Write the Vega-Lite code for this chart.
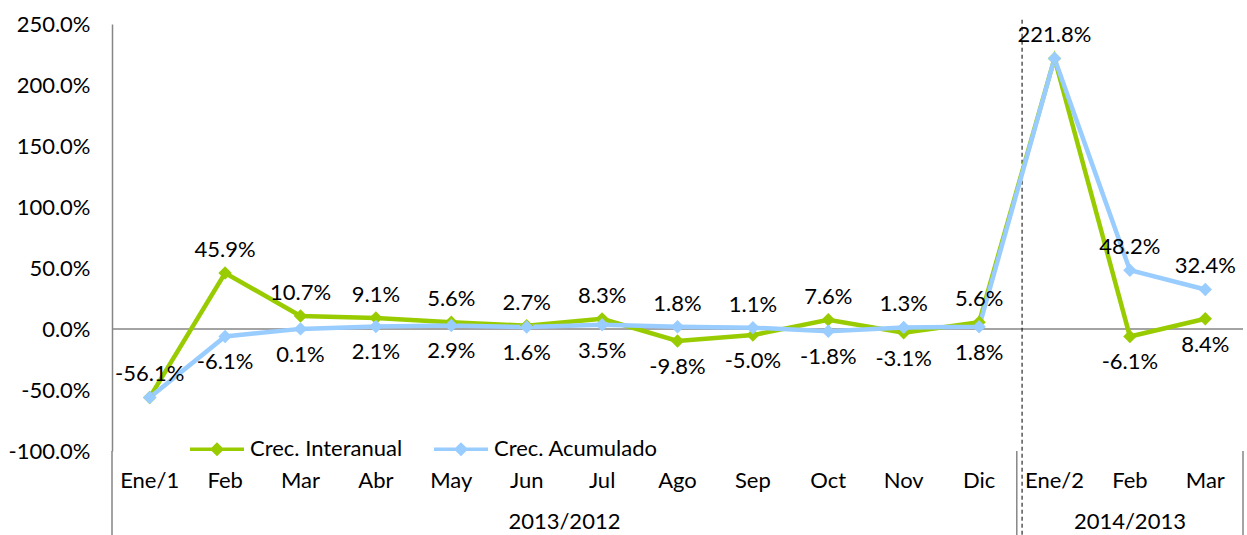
{
  "$schema": "https://vega.github.io/schema/vega-lite/v6.json",
  "width": 1131,
  "height": 427,
  "autosize": "none",
  "padding": {"left": 112, "top": 24, "right": 4, "bottom": 84},
  "background": "white",
  "config": {
    "font": "Lato",
    "view": {"stroke": null},
    "locale": {"number": {"decimal": ".", "thousands": ",", "grouping": [3], "currency": ["$", ""], "minus": "-"}},
    "axisX": {"domain": false, "ticks": false, "grid": false, "labelAngle": 0, "labelFontSize": 22, "labelColor": "#000000", "labelPadding": 19, "labelExpr": "split(datum.label, '|')[1]"},
    "axisY": {"domainColor": "#868686", "domainWidth": 1.5, "ticks": false, "grid": false, "labelFontSize": 22, "labelColor": "#000000", "labelPadding": 22, "labelExpr": "format(datum.value, '.1%')"}
  },
  "datasets": {
    "serie": [
      {"cat": "2013/2012|Ene/1", "serie": "Crec. Interanual", "valor": -0.561},
      {"cat": "2013/2012|Feb", "serie": "Crec. Interanual", "valor": 0.459},
      {"cat": "2013/2012|Mar", "serie": "Crec. Interanual", "valor": 0.107},
      {"cat": "2013/2012|Abr", "serie": "Crec. Interanual", "valor": 0.091},
      {"cat": "2013/2012|May", "serie": "Crec. Interanual", "valor": 0.056},
      {"cat": "2013/2012|Jun", "serie": "Crec. Interanual", "valor": 0.027},
      {"cat": "2013/2012|Jul", "serie": "Crec. Interanual", "valor": 0.083},
      {"cat": "2013/2012|Ago", "serie": "Crec. Interanual", "valor": -0.098},
      {"cat": "2013/2012|Sep", "serie": "Crec. Interanual", "valor": -0.05},
      {"cat": "2013/2012|Oct", "serie": "Crec. Interanual", "valor": 0.076},
      {"cat": "2013/2012|Nov", "serie": "Crec. Interanual", "valor": -0.031},
      {"cat": "2013/2012|Dic", "serie": "Crec. Interanual", "valor": 0.056},
      {"cat": "2014/2013|Ene/2", "serie": "Crec. Interanual", "valor": 2.218},
      {"cat": "2014/2013|Feb", "serie": "Crec. Interanual", "valor": -0.061},
      {"cat": "2014/2013|Mar", "serie": "Crec. Interanual", "valor": 0.084},
      {"cat": "2013/2012|Ene/1", "serie": "Crec. Acumulado", "valor": -0.561},
      {"cat": "2013/2012|Feb", "serie": "Crec. Acumulado", "valor": -0.061},
      {"cat": "2013/2012|Mar", "serie": "Crec. Acumulado", "valor": 0.001},
      {"cat": "2013/2012|Abr", "serie": "Crec. Acumulado", "valor": 0.021},
      {"cat": "2013/2012|May", "serie": "Crec. Acumulado", "valor": 0.029},
      {"cat": "2013/2012|Jun", "serie": "Crec. Acumulado", "valor": 0.016},
      {"cat": "2013/2012|Jul", "serie": "Crec. Acumulado", "valor": 0.035},
      {"cat": "2013/2012|Ago", "serie": "Crec. Acumulado", "valor": 0.018},
      {"cat": "2013/2012|Sep", "serie": "Crec. Acumulado", "valor": 0.011},
      {"cat": "2013/2012|Oct", "serie": "Crec. Acumulado", "valor": -0.018},
      {"cat": "2013/2012|Nov", "serie": "Crec. Acumulado", "valor": 0.013},
      {"cat": "2013/2012|Dic", "serie": "Crec. Acumulado", "valor": 0.018},
      {"cat": "2014/2013|Ene/2", "serie": "Crec. Acumulado", "valor": 2.218},
      {"cat": "2014/2013|Feb", "serie": "Crec. Acumulado", "valor": 0.482},
      {"cat": "2014/2013|Mar", "serie": "Crec. Acumulado", "valor": 0.324}
    ]
  },
  "layer": [
    {
      "data": {"values": [{"linea": "cero"}]},
      "mark": {"type": "rule", "color": "#868686", "strokeWidth": 1.5},
      "encoding": {
        "y": {"datum": 0, "type": "quantitative", "title": null}
      }
    },
    {
      "data": {"values": [{"cat": "2013/2012|Ene/1"}, {"cat": "2014/2013|Ene/2"}]},
      "mark": {"type": "rule", "color": "#868686", "strokeWidth": 1.5},
      "encoding": {
        "x": {"field": "cat", "type": "ordinal", "bandPosition": 0, "title": null},
        "y": {"datum": -1.0, "type": "quantitative", "title": null},
        "y2": {"datum": -1.69}
      }
    },
    {
      "data": {"values": [{"cat": "2014/2013|Mar"}]},
      "mark": {"type": "rule", "color": "#868686", "strokeWidth": 1.5},
      "encoding": {
        "x": {"field": "cat", "type": "ordinal", "bandPosition": 1, "title": null},
        "y": {"datum": -1.0, "type": "quantitative", "title": null},
        "y2": {"datum": -1.69}
      }
    },
    {
      "data": {"values": [{"cat": "2014/2013|Ene/2"}]},
      "mark": {"type": "rule", "color": "#000000", "strokeWidth": 1, "strokeDash": [4, 3]},
      "encoding": {
        "x": {"field": "cat", "type": "ordinal", "bandPosition": 0.07, "title": null},
        "y": {"datum": 2.535, "type": "quantitative", "title": null},
        "y2": {"datum": -1.69}
      }
    },
    {
      "data": {"name": "serie"},
      "mark": {"type": "line", "strokeWidth": 4.5, "point": {"filled": true, "shape": "diamond", "size": 180, "opacity": 1}},
      "encoding": {
        "x": {
          "field": "cat", "type": "ordinal", "bandPosition": 0.5, "title": null,
          "scale": {
            "type": "band", "paddingInner": 0, "paddingOuter": 0,
            "domain": ["2013/2012|Ene/1", "2013/2012|Feb", "2013/2012|Mar", "2013/2012|Abr", "2013/2012|May", "2013/2012|Jun", "2013/2012|Jul", "2013/2012|Ago", "2013/2012|Sep", "2013/2012|Oct", "2013/2012|Nov", "2013/2012|Dic", "2014/2013|Ene/2", "2014/2013|Feb", "2014/2013|Mar"]
          }
        },
        "y": {
          "field": "valor", "type": "quantitative", "title": null,
          "scale": {"domain": [-1, 2.5], "nice": false, "zero": false},
          "axis": {"values": [-1, -0.5, 0, 0.5, 1, 1.5, 2, 2.5]}
        },
        "color": {
          "field": "serie", "type": "nominal", "sort": null,
          "scale": {"domain": ["Crec. Interanual", "Crec. Acumulado"], "range": ["#99CC00", "#99CCFF"]},
          "legend": {
            "title": null, "orient": "none", "direction": "horizontal", "legendX": 76, "legendY": 396,
            "padding": 0, "columnPadding": 24, "labelOffset": 4, "labelLimit": 400,
            "labelFontSize": 22, "labelColor": "#000000", "labelFont": "Lato",
            "symbolType": "M-1,0L1,0M0,-0.17L0.17,0L0,0.17L-0.17,0Z",
            "symbolSize": 2916, "symbolStrokeWidth": 3.5,
            "encode": {"symbols": {"update": {"fill": {"scale": "color", "field": "value"}, "stroke": {"scale": "color", "field": "value"}, "opacity": {"value": 1}}}}
          }
        }
      }
    },
    {
      "data": {"name": "serie"},
      "transform": [
        {"joinaggregate": [{"op": "max", "field": "valor", "as": "maxv"}, {"op": "min", "field": "valor", "as": "minv"}], "groupby": ["cat"]},
        {"filter": "datum.valor == datum.maxv && (datum.valor > datum.minv || datum.serie == 'Crec. Interanual')"}
      ],
      "mark": {"type": "text", "fontSize": 22, "color": "#000000", "baseline": "middle", "dy": -23},
      "encoding": {
        "x": {"field": "cat", "type": "ordinal", "bandPosition": 0.5, "title": null},
        "y": {"field": "valor", "type": "quantitative", "title": null},
        "text": {"field": "valor", "type": "quantitative", "format": ".1%"}
      }
    },
    {
      "data": {"name": "serie"},
      "transform": [
        {"joinaggregate": [{"op": "max", "field": "valor", "as": "maxv"}], "groupby": ["cat"]},
        {"filter": "datum.valor < datum.maxv"}
      ],
      "mark": {"type": "text", "fontSize": 22, "color": "#000000", "baseline": "middle", "dy": 26},
      "encoding": {
        "x": {"field": "cat", "type": "ordinal", "bandPosition": 0.5, "title": null},
        "y": {"field": "valor", "type": "quantitative", "title": null},
        "text": {"field": "valor", "type": "quantitative", "format": ".1%"}
      }
    },
    {
      "data": {"values": [{"grupo": "2013/2012", "cat": "2013/2012|Jul"}]},
      "mark": {"type": "text", "fontSize": 22, "color": "#000000", "baseline": "middle"},
      "encoding": {
        "x": {"field": "cat", "type": "ordinal", "bandPosition": 0, "title": null},
        "y": {"datum": -1.58, "type": "quantitative", "title": null},
        "text": {"field": "grupo"}
      }
    },
    {
      "data": {"values": [{"grupo": "2014/2013", "cat": "2014/2013|Feb"}]},
      "mark": {"type": "text", "fontSize": 22, "color": "#000000", "baseline": "middle"},
      "encoding": {
        "x": {"field": "cat", "type": "ordinal", "bandPosition": 0.5, "title": null},
        "y": {"datum": -1.58, "type": "quantitative", "title": null},
        "text": {"field": "grupo"}
      }
    }
  ]
}
